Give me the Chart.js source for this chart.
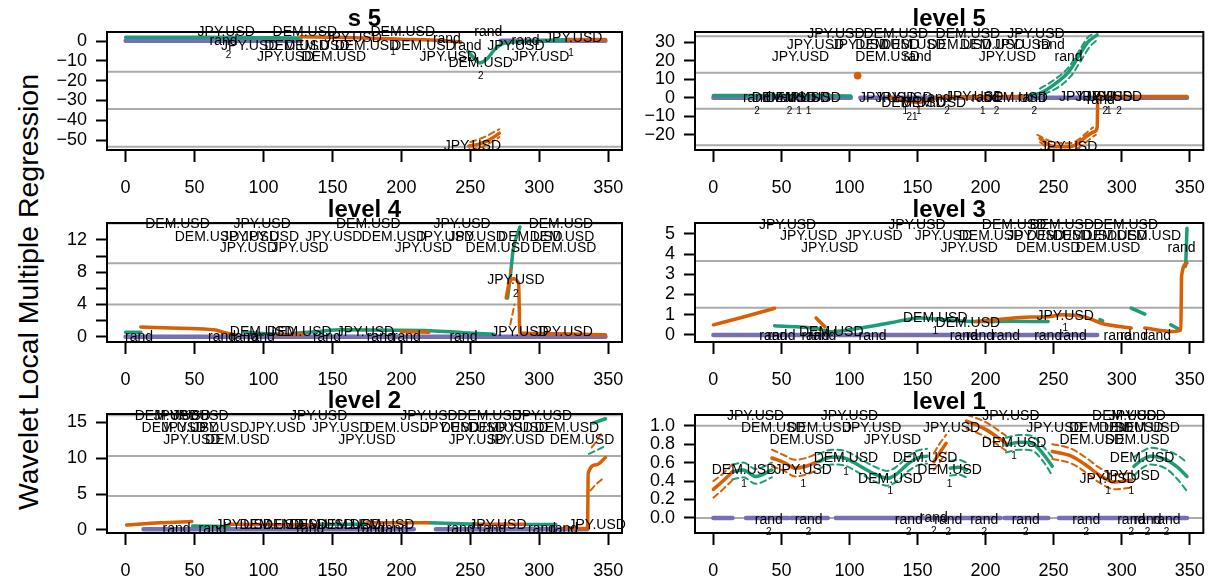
<!DOCTYPE html>
<html>
<head>
<meta charset="utf-8">
<script src="https://cdn.jsdelivr.net/npm/chart.js@4.4.1/dist/chart.umd.min.js"></script>
<style>
  body { margin: 0; background: #fff; width: 1220px; height: 579px; overflow: hidden; position: relative; font-family: "Liberation Sans", Arial, sans-serif; }
  canvas { position: absolute; }
  #ylab { position: absolute; left: 28px; top: 292px; transform: translate(-50%, -50%) rotate(-90deg); white-space: nowrap; font-size: 28.5px; color: #000; }
</style>
</head>
<body>
<div id="ylab">Wavelet Local Multiple Regression</div>
<canvas id="c1" width="640" height="193" style="left:0;top:0"></canvas>
<canvas id="c2" width="580" height="193" style="left:640px;top:0"></canvas>
<canvas id="c3" width="640" height="193" style="left:0;top:193px"></canvas>
<canvas id="c4" width="580" height="193" style="left:640px;top:193px"></canvas>
<canvas id="c5" width="640" height="193" style="left:0;top:386px"></canvas>
<canvas id="c6" width="580" height="193" style="left:640px;top:386px"></canvas>
<script>
const ORANGE = '#D95F02', GREEN = '#1B9E77', PURPLE = '#7570B3', GRAY = '#ABABAB';

// x axis, shared by all panels
const xTicks = [0, 50, 100, 150, 200, 250, 300, 350];

// ---- s 5 ----
const p1YTicks = [-50, -40, -30, -20, -10, 0];
const p1YLabels = ['\u221250', '\u221240', '\u221230', '\u221220', '\u221210', '0'];
const p1Ref = [-15.5, -34.3, -53.3];
const p1Orange = [[127,2.2],[160,1.8],[200,1.0],[230,0.3],[243,-0.5],null,[249,-53],[256,-52],[262,-50.5],[268,-48],[271,-46.5],null,[320,0.8],[348,0.8]];
const p1OrangeHi = [[250,-51],[260,-48.5],[271,-44.5]];
const p1OrangeLo = [[250,-55],[260,-53],[271,-48.5]];
const p1Green = [[0,1.9],[60,1.9],[127,1.6],null,[248,-5],[252,-8],[257,-11],[262,-9],[268,-4],[275,-1],[300,0],[322,0.8]];
const p1Purple = [[0,0.2],[127,0.2],null,[272,0.2],[348,0.2]];
const p1Labels = [[73,4.3,'JPY.USD'],[71,0,'rand'],[90,-2.3,'JPY.USD'],[130,4.3,'DEM.USD'],[124,-2.3,'DEM.USD'],[139,-2.3,'DEM.USD'],
  [165,1.3,'JPY.USD'],[201,4.3,'DEM.USD'],[175,-2.3,'DEM.USD'],[216,-2.3,'DEM.USD'],[233,0.8,'rand'],[263,4.3,'rand'],[248,-2.3,'rand'],
  [283,-2.3,'JPY.USD'],[290,0,'rand'],[325,1.3,'JPY.USD'],[116,-8.2,'JPY.USD'],[151,-8.2,'DEM.USD'],[234,-8.2,'JPY.USD'],[301,-8.2,'JPY.USD'],
  [257.5,-10.9,'DEM.USD'],[251.5,-53.3,'JPY.USD']];
const p1Subs = [[74.6,-7,'2'],[257.5,-18,'2'],[194,-5.4,'1'],[323,-6,'1']];

// ---- level 5 ----
const p2YTicks = [-20, -10, 0, 10, 20, 30];
const p2YLabels = ['\u221220', '\u221210', '0', '10', '20', '30'];
const p2Ref = [33.3, 13.6, -5.9, -25.6];
const p2Orange = [[128,0.5],[140,-1.5],[150,-2.5],[160,-1],[170,0.5],[230,0.7],null,[240,-22],[250,-26.5],[262,-26.5],[280,-18.3],[282,-16],[282.5,0.7],[348,0.7]];
const p2OrangeDot = [[106,12]];
const p2OrangeHi = [[238,-20],[250,-24],[262,-24.5],[279,-16]];
const p2OrangeLo = [[240,-24],[250,-28.5],[262,-28.5],[281,-20]];
const p2Green = [[0,1.2],[50,1.2],[101,1.0],null,[225,0.8],[240,2.5],[250,7],[261,14],[268,22],[275,30],[282,34]];
const p2GreenHi = [[240,5],[250,9.5],[261,16.5],[268,24.5],[275,32.5],[280,35]];
const p2GreenLo = [[243,2],[253,5.5],[263,12],[270,20],[277,28],[283,32]];
const p2Purple = [[0,0],[101,0],null,[108,0],[348,0]];
const p2Labels = [[90,34.7,'JPY.USD'],[134,34.7,'DEM.USD'],[187,34.7,'DEM.USD'],[237,34.7,'JPY.USD'],
  [75,28.4,'JPY.USD'],[108,28.4,'JPY.USD'],[128,28.4,'DEM.USD'],[147,28.4,'DEM.USD'],[181,28.4,'DEM.USD'],[205,28.4,'DEM.USD'],[227,28.4,'JPY.USD'],[248,28.4,'rand'],
  [64,21.9,'JPY.USD'],[128,21.9,'DEM.USD'],[150,21.9,'rand'],[216,21.9,'JPY.USD'],[261,21.9,'rand'],
  [32,0,'rand'],[52,0,'DEM.USD'],[56,0,'rand'],[62,0,'DEM.USD'],[72.6,0,'JPY.USD'],
  [128,0,'JPY.USD'],[140,0,'JPY.USD'],[164,0,'rand'],[147,-3,'DEM.USD'],[162,-3,'DEM.USD'],
  [192,0.5,'JPY.USD'],[200,0,'rand'],[222,0,'DEM.USD'],[234,0,'rand'],[275,0.5,'JPY.USD'],[287,0.5,'JPY.USD'],[284.6,-1,'rand'],[294,0.5,'JPY.USD'],
  [261,-26.5,'JPY.USD']];
const p2Subs = [[32,-7.5,'2'],[56,-7.5,'2'],[63,-7.5,'1'],[70,-7.5,'1'],[141,-7.5,'1'],[151,-7.5,'1'],[146,-10.4,'21'],[171.6,-7.5,'2'],
  [198,-7.5,'1'],[208,-7.5,'2'],[235.7,-7.5,'2'],[288,-7.5,'2'],[290.5,-7.5,'1'],[298,-7.5,'2']];

// ---- level 4 ----
const p3YTicks = [0, 2, 4, 6, 8, 10, 12];
const p3YLabels = ['0', '', '4', '', '8', '', '12'];
const p3Ref = [14.05, 9.1, 4.0];
const p3Orange = [[11,1.2],[40,1.05],[64,0.85],[72,0.5],[80,0.2],null,[110,0.25],[130,0.3],null,[200,0.65],[220,0.55],null,[276,4.8],[278,6.5],[281,7.2],[285,6.6],[286,0.45],[300,0.4],[348,0.25]];
const p3OrangeHi = [[277,6.5],[280,8.5]];
const p3OrangeLo = [[279,1.5],[282,4]];
const p3Green = [[0,0.55],[11,0.55],null,[86,0.6],[100,0.4],[115,0.3],null,[121,0.4],[140,0.65],[156,0.85],[190,0.8],[221,0.75],[245,0.5],[267,0.3],null,[277,4.8],[279,7.5],[281,10.7],[286,13.6]];
const p3Purple = [[0,0],[348,0]];
const p3Labels = [[37.6,13.9,'DEM.USD'],[99,13.9,'JPY.USD'],[176,13.9,'DEM.USD'],[244,13.9,'JPY.USD'],[315.7,13.9,'DEM.USD'],
  [59,12.4,'DEM.USD'],[90.5,12.4,'JPY.USD'],[105,12.4,'JPY.USD'],[151,12.4,'JPY.USD'],[194.5,12.4,'DEM.USD'],[232,12.4,'JPY.USD'],[255,12.4,'JPY.USD'],[293.5,12.4,'DEM.USD'],[316.5,12.4,'DEM.USD'],
  [89,11,'JPY.USD'],[126.5,11,'JPY.USD'],[216,11,'JPY.USD'],[270,11,'DEM.USD'],[318,11,'DEM.USD'],
  [283,7,'JPY.USD'],
  [99,0.6,'DEM.USD'],[126,0.6,'DEM.USD'],[174,0.6,'JPY.USD'],[286,0.6,'JPY.USD'],[318,0.6,'JPY.USD'],
  [9.7,0,'rand'],[70,0,'rand'],[86,0,'rand'],[98,0,'rand'],[146,0,'rand'],[185,0,'rand'],[204,0,'rand'],[245,0,'rand']];
const p3Subs = [[283,5.3,'2']];

// ---- level 3 ----
const p4YTicks = [0, 1, 2, 3, 4, 5];
const p4YLabels = ['0', '1', '2', '3', '4', '5'];
const p4Ref = [3.66, 1.34];
const p4Orange = [[0,0.5],[20,0.85],[45,1.32],null,[75.5,0.84],[82,0.4],null,[193,0.66],[234,0.89],[246,0.9],[256,1.0],[273,0.89],[285,0.58],[307,0.34],null,[317,0.34],[338,0.17],[343.5,0.25],[344,2.9],[348,3.56]];
const p4Green = [[45,0.45],[74.6,0.33],[86.6,0.16],[108,0.34],[130,0.6],[152,0.84],[171,0.74],[193,0.66],[220,0.68],[246,0.66],null,[284,0.76],[286,0.7],null,[307,1.33],[317,1.03],null,[336,0.5],[343,0.25],null,[347,3.4],[348,5.28]];
const p4Purple = [[0,0],[282,0]];
const p4Labels = [[54.5,5.45,'JPY.USD'],[149.6,5.45,'JPY.USD'],[221,5.45,'DEM.USD'],[256,5.45,'DEM.USD'],[303,5.45,'DEM.USD'],
  [70,4.9,'JPY.USD'],[118,4.9,'JPY.USD'],[169,4.9,'JPY.USD'],[204,4.9,'DEM.USD'],[237,4.9,'JPY.USD'],[254,4.9,'DEM.USD'],[273,4.9,'DEM.USD'],[295,4.9,'DEM.USD'],[320,4.9,'DEM.USD'],
  [85.5,4.3,'JPY.USD'],[188,4.3,'JPY.USD'],[246,4.3,'DEM.USD'],[290,4.3,'DEM.USD'],[344,4.3,'rand'],
  [163,0.83,'DEM.USD'],[187,0.6,'DEM.USD'],[86.6,0.16,'DEM.USD'],[258.5,0.94,'JPY.USD'],
  [44,-0.08,'rand'],[50,-0.08,'rand'],[75,-0.08,'rand'],[80,-0.08,'rand'],[117,-0.08,'rand'],[184,-0.08,'rand'],[196,-0.08,'rand'],
  [215,-0.08,'rand'],[246,-0.08,'rand'],[264,-0.08,'rand'],[297,-0.08,'rand'],[309,-0.08,'rand'],[326,-0.08,'rand']];
const p4Subs = [[163,0.16,'1'],[258.5,0.33,'1']];

// ---- level 2 ----
const p5YTicks = [0, 5, 10, 15];
const p5YLabels = ['0', '5', '10', '15'];
const p5Ref = [16.0, 10.3, 4.74];
const p5Orange = [[0.7,0.7],[25,1.0],[48,1.17],null,[75,0.8],[140,0.7],null,[175,1.0],[220,1.0],null,[255,0.8],[290,0.8],null,[318,0.3],[335,0.2],[335.5,7.9],[341.6,9.1],[348,10.1]];
const p5OrangeHi = [[338,11.5],[342,12.5],[345,13.5]];
const p5OrangeLo = [[337,5.5],[342,6.5],[347,7.3]];
const p5Green = [[48.5,0.55],[75,0.5],null,[140,0.8],[175,0.8],null,[220,1.0],[255,0.8],null,[290,0.75],[312,0.75],null,[339,14.9],[348,15.5]];
const p5GreenLo = [[336,10.6],[348,11.7]];
const p5Purple = [[13,0.1],[209,0.1],null,[225,0.1],[335,0.1]];
const p5Labels = [[30,15.9,'DEM.USD'],[41,15.9,'JPY.USD'],[54,15.9,'JPY.USD'],[140,15.9,'JPY.USD'],[220,15.9,'JPY.USD'],[264,15.9,'DEM.USD'],[303,15.9,'JPY.USD'],
  [35,14.25,'DEM.USD'],[47,14.25,'JPY.USD'],[69,14.25,'JPY.USD'],[110,14.25,'JPY.USD'],[156,14.25,'JPY.USD'],[197,14.25,'DEM.USD'],[236,14.25,'JPY.USD'],
  [252,14.25,'DEM.USD'],[272,14.25,'DEM.USD'],[286,14.25,'JPY.USD'],[320,14.25,'DEM.USD'],
  [48,12.5,'JPY.USD'],[81,12.5,'DEM.USD'],[175,12.5,'JPY.USD'],[255,12.5,'JPY.USD'],[283,12.5,'JPY.USD'],[331,12.5,'DEM.USD'],
  [86,0.7,'JPY.USD'],[106,0.7,'DEM.USD'],[123,0.7,'DEM.USD'],[142,0.7,'DEM.USD'],[162,0.7,'DEM.USD'],[186,0.7,'DEM.USD'],[270,0.7,'JPY.USD'],[342,0.7,'JPY.USD'],
  [37,0.1,'rand'],[63,0.1,'rand'],[134,0.1,'rand'],[178,0.1,'rand'],[195,0.1,'rand'],[243,0.1,'rand'],[266,0.1,'rand'],[302,0.1,'rand'],[318,0.1,'rand']];
const p5Subs = [];

// ---- level 1 ----
const p6YTicks = [0, 0.2, 0.4, 0.6, 0.8, 1.0];
const p6YLabels = ['0.0', '0.2', '0.4', '0.6', '0.8', '1.0'];
const p6Ref = [1.0, 0.0];
const p6Orange = [[0,0.31],[7,0.40],[14,0.50],null,[43,0.65],[52,0.60],[60,0.54],[68,0.56],[75,0.60],null,[162,0.61],[166,0.70],[171,0.81],null,
  [186,1.05],[200,0.96],[215,0.81],null,[249,0.72],[263,0.67],[275,0.56],[283,0.47],[295,0.39],[307,0.41]];
const p6OrangeHi = [[0,0.40],[7,0.48],[14,0.58],null,[43,0.74],[52,0.68],[60,0.63],[68,0.65],[75,0.69],null,[162,0.70],[166,0.80],[171,0.90],null,
  [186,1.12],[200,1.04],[215,0.89],null,[249,0.80],[263,0.75],[275,0.64],[283,0.55],[295,0.47],[307,0.49]];
const p6OrangeLo = [[0,0.22],[7,0.31],[14,0.41],null,[43,0.56],[52,0.51],[60,0.45],[68,0.47],[75,0.51],null,[162,0.52],[166,0.60],[171,0.71],null,
  [186,0.97],[200,0.88],[215,0.73],null,[249,0.64],[263,0.59],[275,0.48],[283,0.39],[295,0.31],[307,0.33]];
const p6Green = [[14,0.50],[22,0.52],[31,0.45],[43,0.52],null,[77,0.61],[87,0.66],[96,0.65],[108,0.56],[118,0.48],[128,0.43],[135,0.48],[142.5,0.58],[150,0.65],[157,0.67],null,
  [174,0.54],[180,0.55],[186,0.52],null,[215,0.79],[225,0.82],[234,0.81],[242,0.7],[249,0.56],null,[309,0.56],[315,0.63],[321.5,0.67],[333,0.63],[341,0.55],[348,0.45]];
const p6GreenHi = [[14,0.58],[22,0.60],[31,0.53],[43,0.60],null,[77,0.69],[87,0.74],[96,0.73],[108,0.64],[118,0.56],[128,0.51],[135,0.56],[142.5,0.66],[150,0.73],[157,0.75],null,
  [174,0.62],[180,0.63],[186,0.60],null,[215,0.87],[225,0.90],[234,0.89],[242,0.78],[249,0.66],null,[309,0.66],[315,0.72],[321.5,0.76],[333,0.73],[341,0.68],[348,0.60]];
const p6GreenLo = [[14,0.42],[22,0.44],[31,0.37],[43,0.44],null,[77,0.53],[87,0.58],[96,0.57],[108,0.48],[118,0.40],[128,0.35],[135,0.40],[142.5,0.50],[150,0.57],[157,0.59],null,
  [174,0.46],[180,0.47],[186,0.44],null,[215,0.71],[225,0.74],[234,0.73],[242,0.62],[249,0.46],null,[309,0.46],[315,0.54],[321.5,0.58],[333,0.53],[341,0.42],[348,0.29]];
const p6Purple = [[0,0],[14,0],null,[24,0],[55,0],null,[57,0],[84,0],null,[90,0],[211,0],null,[214,0],[246,0],null,[254,0],[348,0]];
const p6Labels = [[31,1.105,'JPY.USD'],[100,1.105,'JPY.USD'],[218.6,1.105,'JPY.USD'],[302,1.105,'DEM.USD'],[311.5,1.105,'JPY.USD'],
  [44,0.978,'DEM.USD'],[78,0.978,'DEM.USD'],[117,0.978,'JPY.USD'],[175,0.978,'JPY.USD'],[251,0.978,'JPY.USD'],[285,0.978,'DEM.USD'],[307,0.978,'DEM.USD'],[319,0.978,'DEM.USD'],
  [65,0.845,'DEM.USD'],[131.6,0.845,'JPY.USD'],[278,0.845,'DEM.USD'],[311.5,0.845,'DEM.USD'],[221,0.816,'DEM.USD'],
  [97.4,0.647,'DEM.USD'],[155.6,0.647,'DEM.USD'],[315,0.647,'DEM.USD'],
  [22.5,0.52,'DEM.USD'],[66,0.52,'JPY.USD'],[173.6,0.52,'DEM.USD'],
  [130,0.42,'DEM.USD'],[290,0.42,'JPY.USD'],[307,0.455,'JPY.USD'],
  [40.7,-0.02,'rand'],[70,-0.02,'rand'],[143.6,-0.02,'rand'],[162,0.0,'rand'],[172.6,-0.02,'rand'],[199,-0.02,'rand'],[229.5,-0.02,'rand'],
  [274,-0.02,'rand'],[307,-0.02,'rand'],[319,-0.02,'rand'],[333,-0.02,'rand']];
const p6Subs = [[22.5,0.37,'1'],[66,0.37,'1'],[130,0.285,'1'],[173.6,0.37,'1'],[97.4,0.5,'1'],[221,0.67,'1'],[290,0.285,'1'],[307,0.285,'1'],
  [40.7,-0.15,'2'],[70,-0.15,'2'],[143.6,-0.15,'2'],[162,-0.14,'2'],[172.6,-0.15,'2'],[199,-0.15,'2'],[229.5,-0.15,'2'],[274,-0.15,'2'],[307,-0.15,'2'],[319,-0.15,'2'],[333,-0.15,'2']];

Chart.defaults.font.family = '"Liberation Sans", Arial, sans-serif';
Chart.defaults.color = '#000';

function pts(arr) {
  const out = [];
  let lastX = 0;
  arr.forEach(p => {
    if (p === null) out.push({ x: lastX, y: null });
    else { out.push({ x: p[0], y: p[1] }); lastX = p[0]; }
  });
  return out;
}

function line(data, color, width, dash) {
  return {
    data: pts(data), borderColor: color, backgroundColor: color, borderWidth: width,
    borderDash: dash || [], pointRadius: 0, fill: false, cubicInterpolationMode: 'monotone',
    borderCapStyle: 'round'
  };
}

function refs(values) {
  return values.map(v => line([[-13.5, v], [360, v]], GRAY, 2));
}

// text labels, box and title, placed through the chart's scales
const panelDecor = {
  id: 'panelDecor',
  afterDatasetsDraw(chart, args, opts) {
    const { ctx, chartArea: a, scales: { x, y } } = chart;
    ctx.save();
    ctx.fillStyle = '#000';
    ctx.textAlign = 'center';
    ctx.textBaseline = 'middle';
    ctx.font = '14px "Liberation Sans", Arial, sans-serif';
    opts.labels.forEach(l => ctx.fillText(l[2], x.getPixelForValue(l[0]), y.getPixelForValue(l[1])));
    ctx.font = '10px "Liberation Sans", Arial, sans-serif';
    opts.subs.forEach(l => ctx.fillText(l[2], x.getPixelForValue(l[0]), y.getPixelForValue(l[1])));
    ctx.lineWidth = 2;
    ctx.strokeStyle = '#000';
    ctx.strokeRect(a.left, a.top, a.right - a.left, a.bottom - a.top);
    ctx.font = 'bold 24px "Liberation Sans", Arial, sans-serif';
    ctx.fillText(opts.title, (a.left + a.right) / 2, a.top - 13);
    ctx.restore();
  }
};

function panel(id, o) {
  new Chart(document.getElementById(id), {
    type: 'line',
    data: { datasets: o.datasets },
    options: {
      responsive: false,
      animation: false,
      events: [],
      layout: { padding: { top: o.padT, right: o.padR, left: 0, bottom: 0 } },
      plugins: {
        legend: { display: false },
        tooltip: { enabled: false },
        panelDecor: { title: o.title, labels: o.labels, subs: o.subs }
      },
      scales: {
        x: {
          type: 'linear', min: -13.5, max: 360,
          afterFit: s => { s.height = o.xH; },
          afterBuildTicks: s => { s.ticks = xTicks.map(v => ({ value: v })); },
          grid: { display: true, drawOnChartArea: false, drawTicks: true, tickLength: 12, tickWidth: 2, tickColor: '#000' },
          border: { display: false },
          ticks: { color: '#000', font: { size: 18 }, padding: 15, maxRotation: 0, autoSkip: false, callback: v => String(v) }
        },
        y: {
          type: 'linear', min: o.yMin, max: o.yMax,
          afterFit: s => { s.width = o.yW; },
          afterBuildTicks: s => { s.ticks = o.yTicks.map(v => ({ value: v })); },
          grid: { display: true, drawOnChartArea: false, drawTicks: true, tickLength: 11, tickWidth: 2, tickColor: '#000' },
          border: { display: false },
          ticks: { color: '#000', font: { size: 18 }, padding: 9, autoSkip: false, callback: (v, i) => o.yLabels[i] }
        }
      }
    },
    plugins: [panelDecor]
  });
}

const dash = [6, 4];

panel('c1', {
  title: 's 5', padT: 32, padR: 18, yW: 107, xH: 43, yMin: -55, yMax: 4.6,
  yTicks: p1YTicks, yLabels: p1YLabels, labels: p1Labels, subs: p1Subs,
  datasets: [line(p1Orange, ORANGE, 3.5), line(p1OrangeHi, ORANGE, 2, dash), line(p1OrangeLo, ORANGE, 2, dash),
    line(p1Green, GREEN, 3.5), line(p1Purple, PURPLE, 4.5)].concat(refs(p1Ref))
});

panel('c2', {
  title: 'level 5', padT: 32, padR: 10, yW: 55, xH: 43, yMin: -28.2, yMax: 35.6,
  yTicks: p2YTicks, yLabels: p2YLabels, labels: p2Labels, subs: p2Subs,
  datasets: [line(p2Orange, ORANGE, 3.5), line(p2OrangeHi, ORANGE, 2, dash), line(p2OrangeLo, ORANGE, 2, dash),
    Object.assign(line(p2OrangeDot, ORANGE, 1), { showLine: false, pointRadius: 3.5 }),
    line(p2Green, GREEN, 3.5), line(p2GreenHi, GREEN, 2, dash), line(p2GreenLo, GREEN, 2, dash),
    line(p2Purple, PURPLE, 4.5)].concat(refs(p2Ref))
});

panel('c3', {
  title: 'level 4', padT: 30, padR: 18, yW: 107, xH: 44, yMin: -0.66, yMax: 14.1,
  yTicks: p3YTicks, yLabels: p3YLabels, labels: p3Labels, subs: p3Subs,
  datasets: [line(p3Orange, ORANGE, 3.5), line(p3OrangeHi, ORANGE, 2, dash), line(p3OrangeLo, ORANGE, 2, dash),
    line(p3Green, GREEN, 3.5), line(p3Purple, PURPLE, 4.5)].concat(refs(p3Ref))
});

panel('c4', {
  title: 'level 3', padT: 30, padR: 10, yW: 55, xH: 44, yMin: -0.35, yMax: 5.54,
  yTicks: p4YTicks, yLabels: p4YLabels, labels: p4Labels, subs: p4Subs,
  datasets: [line(p4Orange, ORANGE, 3.5), line(p4Green, GREEN, 3.5), line(p4Purple, PURPLE, 4.5)].concat(refs(p4Ref))
});

panel('c5', {
  title: 'level 2', padT: 28, padR: 18, yW: 107, xH: 46, yMin: -0.42, yMax: 16.16,
  yTicks: p5YTicks, yLabels: p5YLabels, labels: p5Labels, subs: p5Subs,
  datasets: [line(p5Orange, ORANGE, 3.5), line(p5OrangeHi, ORANGE, 2, dash), line(p5OrangeLo, ORANGE, 2, dash),
    line(p5Green, GREEN, 3.5), line(p5GreenLo, GREEN, 2, dash), line(p5Purple, PURPLE, 4.5)].concat(refs(p5Ref))
});

panel('c6', {
  title: 'level 1', padT: 29, padR: 10, yW: 55, xH: 46, yMin: -0.163, yMax: 1.116,
  yTicks: p6YTicks, yLabels: p6YLabels, labels: p6Labels, subs: p6Subs,
  datasets: [line(p6Orange, ORANGE, 3.5), line(p6OrangeHi, ORANGE, 2, dash), line(p6OrangeLo, ORANGE, 2, dash),
    line(p6Green, GREEN, 3.5), line(p6GreenHi, GREEN, 2, dash), line(p6GreenLo, GREEN, 2, dash),
    line(p6Purple, PURPLE, 4.5)].concat(refs(p6Ref))
});
</script>
</body>
</html>
